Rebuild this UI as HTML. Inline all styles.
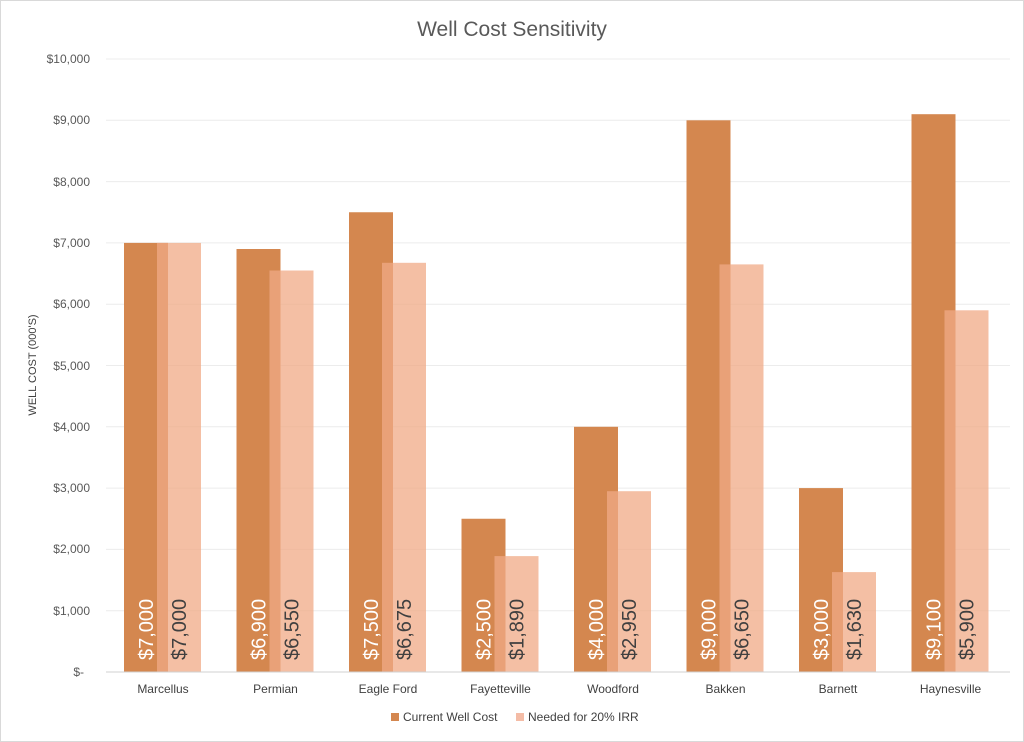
<!DOCTYPE html>
<html><head><meta charset="utf-8"><style>
body{margin:0;background:#fff}
svg{display:block;font-family:"Liberation Sans",sans-serif}
</style></head><body>
<svg width="1024" height="742" viewBox="0 0 1024 742">
<rect x="0.5" y="0.5" width="1023" height="741" fill="#fff" stroke="#d9d9d9"/>
<text x="512" y="36" text-anchor="middle" font-size="21" fill="#595959">Well Cost Sensitivity</text>
<g stroke="#ececec" stroke-width="1">
<line x1="106" x2="1010" y1="59" y2="59"/><line x1="106" x2="1010" y1="120.3" y2="120.3"/>
<line x1="106" x2="1010" y1="181.6" y2="181.6"/><line x1="106" x2="1010" y1="242.9" y2="242.9"/>
<line x1="106" x2="1010" y1="304.2" y2="304.2"/><line x1="106" x2="1010" y1="365.5" y2="365.5"/>
<line x1="106" x2="1010" y1="426.8" y2="426.8"/><line x1="106" x2="1010" y1="488.1" y2="488.1"/>
<line x1="106" x2="1010" y1="549.4" y2="549.4"/><line x1="106" x2="1010" y1="610.7" y2="610.7"/>
</g>
<g font-size="12" fill="#595959" text-anchor="end">
<text x="90" y="63">$10,000</text><text x="90" y="124">$9,000</text><text x="90" y="186">$8,000</text>
<text x="90" y="247">$7,000</text><text x="90" y="308">$6,000</text><text x="90" y="370">$5,000</text>
<text x="90" y="431">$4,000</text><text x="90" y="492">$3,000</text><text x="90" y="553">$2,000</text>
<text x="90" y="615">$1,000</text><text x="84" y="676">$-</text>
</g>
<text transform="translate(36,365) rotate(-90)" text-anchor="middle" font-size="11" fill="#404040">WELL COST (000'S)</text>
<g fill="#d4874f">
<rect x="124" y="242.9" width="44" height="429.1"/>
<rect x="236.5" y="249" width="44" height="423"/>
<rect x="349" y="212.25" width="44" height="459.75"/>
<rect x="461.5" y="518.75" width="44" height="153.25"/>
<rect x="574" y="426.8" width="44" height="245.2"/>
<rect x="686.5" y="120.3" width="44" height="551.7"/>
<rect x="799" y="488.1" width="44" height="183.9"/>
<rect x="911.5" y="114.2" width="44" height="557.8"/>
</g>
<g fill="#f0a986" fill-opacity="0.75">
<rect x="157" y="242.9" width="44" height="429.1"/>
<rect x="269.5" y="270.5" width="44" height="401.5"/>
<rect x="382" y="262.8" width="44" height="409.2"/>
<rect x="494.5" y="556.1" width="44" height="115.9"/>
<rect x="607" y="491.2" width="44" height="180.8"/>
<rect x="719.5" y="264.4" width="44" height="407.6"/>
<rect x="832" y="572.1" width="44" height="99.9"/>
<rect x="944.5" y="310.3" width="44" height="361.7"/>
</g>
<g font-size="20" fill="#fff">
<text transform="translate(153,660) rotate(-90)">$7,000</text>
<text transform="translate(265.5,660) rotate(-90)">$6,900</text>
<text transform="translate(378,660) rotate(-90)">$7,500</text>
<text transform="translate(490.5,660) rotate(-90)">$2,500</text>
<text transform="translate(603,660) rotate(-90)">$4,000</text>
<text transform="translate(715.5,660) rotate(-90)">$9,000</text>
<text transform="translate(828,660) rotate(-90)">$3,000</text>
<text transform="translate(940.5,660) rotate(-90)">$9,100</text>
</g>
<g font-size="20" fill="#404040">
<text transform="translate(186,660) rotate(-90)">$7,000</text>
<text transform="translate(298.5,660) rotate(-90)">$6,550</text>
<text transform="translate(411,660) rotate(-90)">$6,675</text>
<text transform="translate(523.5,660) rotate(-90)">$1,890</text>
<text transform="translate(636,660) rotate(-90)">$2,950</text>
<text transform="translate(748.5,660) rotate(-90)">$6,650</text>
<text transform="translate(861,660) rotate(-90)">$1,630</text>
<text transform="translate(973.5,660) rotate(-90)">$5,900</text>
</g>
<line x1="106" x2="1010" y1="672" y2="672" stroke="#d0d0d0"/>
<g font-size="12" fill="#404040" text-anchor="middle">
<text x="163" y="693">Marcellus</text>
<text x="275.5" y="693">Permian</text>
<text x="388" y="693">Eagle Ford</text>
<text x="500.5" y="693">Fayetteville</text>
<text x="613" y="693">Woodford</text>
<text x="725.5" y="693">Bakken</text>
<text x="838" y="693">Barnett</text>
<text x="950.5" y="693">Haynesville</text>
</g>
<rect x="391" y="713" width="8" height="8" fill="#d4874f"/>
<text x="403" y="721" font-size="12" fill="#404040">Current Well Cost</text>
<rect x="516" y="713" width="8" height="8" fill="#f4bca6"/>
<text x="528" y="721" font-size="12" fill="#404040">Needed for 20% IRR</text>
</svg>
</body></html>
